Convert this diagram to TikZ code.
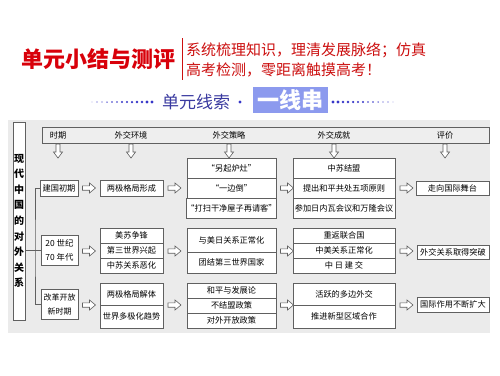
\documentclass[tikz,border=0pt]{standalone}
\usepackage{fontspec}
\newfontfamily\cjk{Noto Sans CJK SC}
\definecolor{titlered}{HTML}{D8000A}
\definecolor{linered}{HTML}{CC1010}
\definecolor{dotblue}{HTML}{3636C8}
\definecolor{lineblue}{HTML}{3A3AA0}
\definecolor{boxblue}{HTML}{8C9AEE}
\definecolor{panel}{HTML}{EBEBEB}
\definecolor{edge}{HTML}{606060}
\tikzset{
  cell/.style={draw=edge, fill=white, line width=0.6pt, inner sep=0pt,
    font=\cjk\fontsize{8.2}{10.5}\selectfont, align=center},
  lbl/.style={font=\cjk\fontsize{8.2}{10}\selectfont, inner sep=0pt},
  hollow/.style={draw=edge, fill=white, line width=0.6pt, line join=miter},
  tree/.style={draw=edge, line width=0.7pt},
  pics/rarr/.style={code={\path[hollow] (0,-2.2) -- (7,-2.2) -- (7,-5) -- (13,0) -- (7,5) -- (7,2.2) -- (0,2.2) -- cycle;}},
  pics/darr/.style={code={\path[hollow] (-2,0) -- (2,0) -- (2,8) -- (4.5,8) -- (0,14) -- (-4.5,8) -- (-2,8) -- cycle;}}
}
\begin{document}
\begin{tikzpicture}[x=1pt,y=-1pt]
\useasboundingbox (0,0) rectangle (500,375);
\fill[white] (0,0) rectangle (500,375);
% ---- header ----
\node[font=\cjk\bfseries\fontsize{22}{24}\selectfont, text=titlered, inner sep=0pt] (title) at (98,59) {单元小结与测评};
\coordinate (rl1) at (182,38);
\coordinate (rl2) at (182,80);
\draw[linered, line width=1pt] (rl1) -- (rl2);
\node[font=\cjk\fontsize{15}{17}\selectfont, text=linered, anchor=west, inner sep=0pt] (sub1) at (186,50.5) {系统梳理知识，理清发展脉络；仿真};
\node[font=\cjk\fontsize{15}{17}\selectfont, text=linered, anchor=west, inner sep=0pt] (sub2) at (186,70) {高考检测，零距离触摸高考！};
\node[font=\cjk\fontsize{17}{19}\selectfont, text=lineblue, inner sep=0pt] (clue) at (196,102) {单元线索};
\fill[dotblue] (240,102) circle (1.6);
\node[fill=boxblue, minimum width=75pt, minimum height=26pt, inner sep=0pt,
  font=\cjk\bfseries\fontsize{22}{24}\selectfont, text=white] (yxc) at (290.5,100) {一线串};
\foreach \i in {0,...,12} {
  \fill[dotblue] ({92+\i*5},102) circle ({0.45+\i*0.1});
  \fill[dotblue] ({333+\i*5},102) circle ({1.65-\i*0.1});
}
% ---- panel ----
\fill[panel] (8,120) rectangle (490,333);
\node[draw=edge, fill=white, line width=0.7pt, minimum width=12pt, minimum height=198pt, inner sep=0pt] (tall) at (19,221) {};
\node[font=\cjk\bfseries\fontsize{10}{15.6}\selectfont, align=center, inner sep=0pt] (talltxt) at (19,221) {现\\代\\中\\国\\的\\对\\外\\关\\系};
% header bar
\node[draw=edge, fill=panel!85!white, line width=0.7pt, minimum width=447pt, minimum height=16pt, inner sep=0pt] (bar) at (265.5,135) {};
\node[lbl] (h1) at (58,135) {时期};
\node[lbl] (h2) at (131,135) {外交环境};
\node[lbl] (h3) at (229,135) {外交策略};
\node[lbl] (h4) at (334,135) {外交成就};
\node[lbl] (h5) at (445,135) {评价};
\foreach \x in {58,131,229,334,445} { \pic at (\x,144) {darr}; }
% ---- row 1 ----
\node[cell, minimum width=38pt, minimum height=16pt] (p1) at (59,188) {建国初期};
\node[cell, minimum width=63pt, minimum height=16pt] (e1) at (131.5,188) {两极格局形成};
\node[cell, minimum width=89pt, minimum height=20pt] (s1a) at (231.5,168) {“另起炉灶”};
\node[cell, minimum width=89pt, minimum height=20pt] (s1b) at (231.5,188) {“一边倒”};
\node[cell, minimum width=89pt, minimum height=20pt] (s1c) at (231.5,208) {“打扫干净屋子再请客”};
\node[cell, minimum width=102pt, minimum height=20pt] (a1a) at (344,168) {中苏结盟};
\node[cell, minimum width=102pt, minimum height=20pt] (a1b) at (344,188) {提出和平共处五项原则};
\node[cell, minimum width=102pt, minimum height=20pt] (a1c) at (344,208) {参加日内瓦会议和万隆会议};
\node[cell, minimum width=73pt, minimum height=14pt] (v1) at (452.5,188.5) {走向国际舞台};
% ---- row 2 ----
\node[cell, minimum width=37pt, minimum height=30pt, font=\cjk\fontsize{8.4}{14}\selectfont] (p2) at (59.5,250) {20 世纪\\70 年代};
\node[cell, minimum width=63pt, minimum height=15pt] (e2a) at (131.5,235.5) {美苏争锋};
\node[cell, minimum width=63pt, minimum height=15pt] (e2b) at (131.5,250.5) {第三世界兴起};
\node[cell, minimum width=63pt, minimum height=15pt] (e2c) at (131.5,265.5) {中苏关系恶化};
\node[cell, minimum width=89pt, minimum height=24pt] (s2a) at (231.5,240) {与美日关系正常化};
\node[cell, minimum width=89pt, minimum height=21pt] (s2b) at (231.5,262.5) {团结第三世界国家};
\node[cell, minimum width=102pt, minimum height=15pt] (a2a) at (344,235.5) {重返联合国};
\node[cell, minimum width=102pt, minimum height=15pt] (a2b) at (344,250.5) {中美关系正常化};
\node[cell, minimum width=102pt, minimum height=15pt] (a2c) at (344,265.5) {中 日 建 交};
\node[cell, minimum width=72pt, minimum height=14pt] (v2) at (453,252) {外交关系取得突破};
% ---- row 3 ----
\node[cell, minimum width=37pt, minimum height=30pt, font=\cjk\fontsize{8}{14}\selectfont] (p3) at (59.5,304) {改革开放\\新时期};
\node[cell, minimum width=63pt, minimum height=22pt] (e3a) at (131.5,294) {两极格局解体};
\node[cell, minimum width=63pt, minimum height=23pt] (e3b) at (131.5,316.5) {世界多极化趋势};
\node[cell, minimum width=89pt, minimum height=15pt] (s3a) at (231.5,290.5) {和平与发展论};
\node[cell, minimum width=89pt, minimum height=15pt] (s3b) at (231.5,305.5) {不结盟政策};
\node[cell, minimum width=89pt, minimum height=15pt] (s3c) at (231.5,320.5) {对外开放政策};
\node[cell, minimum width=102pt, minimum height=22pt] (a3a) at (344,294) {活跃的多边外交};
\node[cell, minimum width=102pt, minimum height=23pt] (a3b) at (344,316.5) {推进新型区域合作};
\node[cell, minimum width=72pt, minimum height=15pt] (v3) at (453,304.5) {国际作用不断扩大};
% ---- hollow arrows ----
\foreach \y in {188,251,305} {
  \pic at (82.5,\y) {rarr};
  \pic at (168,\y) {rarr};
  \pic at (280.5,\y) {rarr};
  \pic at (400,\y) {rarr};
}
% ---- tree ----
\coordinate (tj) at (35,250);
\draw[tree] (p1.west) -| (tj) |- (p3.west);
\draw[tree] (tall.east |- p2.west) -- (p2.west);
\end{tikzpicture}
\end{document}
